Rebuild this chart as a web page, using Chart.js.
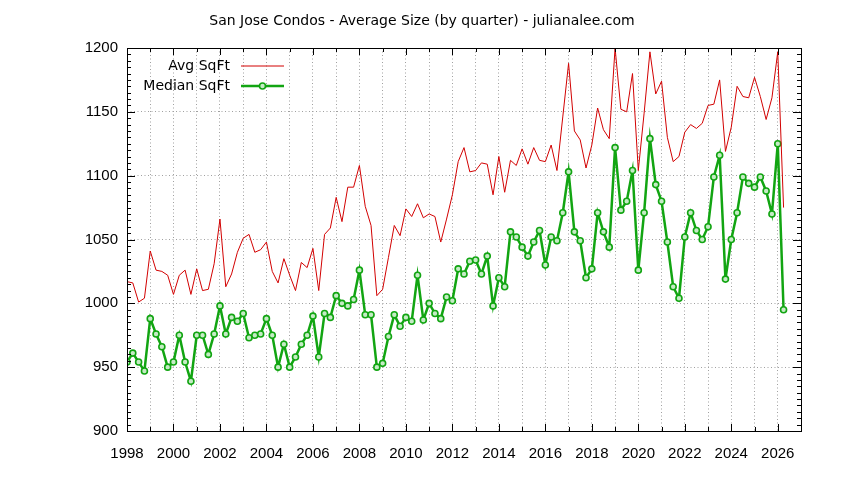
<!DOCTYPE html>
<html>
<head>
<meta charset="utf-8">
<script src="https://cdn.jsdelivr.net/npm/chart.js@4/dist/chart.umd.min.js"></script>
<style>
  html, body { margin: 0; padding: 0; background: #ffffff; }
  #wrap { width: 844px; height: 480px; }
</style>
</head>
<body>
<div id="wrap"><canvas id="c" width="844" height="480"></canvas></div>
<script>
// ---- data ----
const titleText = 'San Jose Condos - Average Size (by quarter) - julianalee.com';
const seriesNames = ['Avg SqFt', 'Median SqFt'];
const startYear = 1998;   // first quarter (Q1 1998)
const yTicks = [900, 950, 1000, 1050, 1100, 1150, 1200];
const xLabelYears = [1998, 2000, 2002, 2004, 2006, 2008, 2010, 2012, 2014, 2016, 2018, 2020, 2022, 2024, 2026];

const avgSqft = [
  1017, 1016, 1001, 1004, 1041, 1026, 1025, 1022, 1007, 1022, 1026, 1007, 1027, 1010, 1011, 1031, 1066, 1013, 1023, 1040,
  1051, 1054, 1040, 1042, 1048, 1025, 1016, 1035, 1022, 1010, 1032, 1028, 1043, 1010, 1054, 1059, 1083, 1064, 1091, 1091,
  1108, 1076, 1061, 1006, 1011, 1036, 1061, 1053, 1074, 1068, 1078, 1067, 1070, 1068, 1048, 1066, 1085, 1111, 1122, 1103,
  1104, 1110, 1109, 1085, 1115, 1087, 1112, 1108, 1121, 1109, 1122, 1112, 1111, 1124, 1104, 1146, 1188, 1135, 1128, 1106,
  1124, 1153, 1136, 1129, 1200, 1152, 1150, 1180, 1104, 1149, 1197, 1164, 1174, 1130, 1111, 1115, 1134, 1140, 1137, 1141,
  1155, 1156, 1175, 1119, 1138, 1170, 1162, 1161, 1177, 1162, 1144, 1161, 1197, 1075
];
const medianSqft = [
  954, 961, 954, 947, 988, 976, 966, 950, 954, 975, 954, 939, 975, 975, 960, 976, 998, 976, 989, 986,
  992, 973, 975, 976, 988, 975, 950, 968, 950, 958, 968, 975, 990, 958, 992, 989, 1006, 1000, 998, 1003,
  1026, 991, 991, 950, 953, 974, 991, 982, 989, 986, 1022, 987, 1000, 992, 988, 1005, 1002, 1027, 1023, 1033,
  1034, 1023, 1037, 998, 1020, 1013, 1056, 1052, 1044, 1037, 1048, 1057, 1030, 1052, 1049, 1071, 1103, 1056, 1049, 1020,
  1027, 1071, 1056, 1044, 1122, 1073, 1080, 1104, 1026, 1071, 1129, 1093, 1080, 1048, 1013, 1004, 1052, 1071, 1057, 1050,
  1060, 1099, 1116, 1019, 1050, 1071, 1099, 1094, 1091, 1099, 1088, 1070, 1125, 995
];

// quarter positions on the time axis (Q1 = year.0, Q2 = year.25, ...)
const quarterX = avgSqft.map((_, i) => startYear + i / 4);
const toPoints = arr => arr.map((v, i) => ({ x: quarterX[i], y: v }));

const FONT = 'DejaVu Sans';
const TICK_FONT = 'Liberation Sans';
const RED = '#d20000';
const GREEN = '#12a512';

// frame + inward tick marks (gnuplot style), and legend
const framePlugin = {
  id: 'frame',
  afterDraw(chart) {
    const { ctx, chartArea: a } = chart;
    const xs = chart.scales.x, ys = chart.scales.y;
    ctx.save();
    ctx.strokeStyle = '#000';
    ctx.lineWidth = 1;
    ctx.beginPath();
    for (let v = ys.min; v <= ys.max; v += 5) {
      const y = Math.round(ys.getPixelForValue(v)) + 0.5;
      const len = (v % 50 === 0) ? 8 : 4;
      ctx.moveTo(a.left, y); ctx.lineTo(a.left + len, y);
      ctx.moveTo(a.right, y); ctx.lineTo(a.right - len, y);
    }
    for (let yr = xs.min; yr <= xs.max; yr += 1) {
      const x = Math.round(xs.getPixelForValue(yr)) + 0.5;
      const len = xLabelYears.includes(yr) ? 7 : 4;
      ctx.moveTo(x, a.bottom); ctx.lineTo(x, a.bottom - len);
      ctx.moveTo(x, a.top); ctx.lineTo(x, a.top + len);
    }
    ctx.stroke();
    ctx.strokeRect(Math.round(a.left) + 0.5, Math.round(a.top) + 0.5,
                   Math.round(a.right - a.left), Math.round(a.bottom - a.top));

    // legend (text right-aligned, sample to the right)
    ctx.font = '14px "' + FONT + '"';
    ctx.textAlign = 'right';
    ctx.textBaseline = 'middle';
    ctx.fillStyle = '#000';
    const textRight = a.left + 103;
    const sx0 = a.left + 114, sx1 = a.left + 157;
    chart.data.datasets.forEach((ds, k) => {
      const y = a.top + 18 + k * 20;
      ctx.fillText(ds.label, textRight, y);
      ctx.strokeStyle = ds.borderColor;
      ctx.lineWidth = ds.borderWidth;
      ctx.beginPath();
      ctx.moveTo(sx0, y); ctx.lineTo(sx1, y);
      ctx.stroke();
      if (ds.pointRadius > 0) {
        ctx.beginPath();
        ctx.arc((sx0 + sx1) / 2, y, ds.pointRadius, 0, Math.PI * 2);
        ctx.fillStyle = ds.pointBackgroundColor;
        ctx.fill();
        ctx.lineWidth = ds.pointBorderWidth;
        ctx.strokeStyle = ds.pointBorderColor;
        ctx.stroke();
        ctx.fillStyle = '#000';
      }
    });
    ctx.restore();
  }
};

new Chart(document.getElementById('c'), {
  type: 'line',
  data: {
    datasets: [
      {
        label: seriesNames[0],
        data: toPoints(avgSqft),
        borderColor: RED,
        borderWidth: 1,
        pointRadius: 0,
        tension: 0,
        fill: false
      },
      {
        label: seriesNames[1],
        data: toPoints(medianSqft),
        borderColor: GREEN,
        borderWidth: 2.5,
        pointRadius: 3,
        pointBorderWidth: 1.6,
        pointBorderColor: GREEN,
        pointBackgroundColor: '#c6ebc6',
        tension: 0,
        fill: false
      }
    ]
  },
  options: {
    responsive: false,
    animation: false,
    devicePixelRatio: 1,
    layout: { padding: 0 },
    plugins: {
      legend: { display: false },
      tooltip: { enabled: false },
      title: {
        display: true,
        text: titleText,
        color: '#000',
        font: { family: FONT, size: 14, weight: 'normal', lineHeight: 1.2 },
        padding: { top: 13, bottom: 18.2 }
      }
    },
    scales: {
      x: {
        type: 'linear',
        min: 1998,
        max: 2027,
        afterFit: s => { s.height = 49; },
        afterBuildTicks: s => {
          const t = [];
          for (let yr = 1998; yr <= 2027; yr++) t.push({ value: yr });
          s.ticks = t;
        },
        ticks: {
          autoSkip: false,
          maxRotation: 0,
          padding: 14,
          color: '#000',
          font: { family: TICK_FONT, size: 15 },
          callback: v => xLabelYears.includes(v) ? String(v) : ''
        },
        grid: { drawTicks: false, color: '#a0a0a0', lineWidth: 1 },
        border: { display: false, dash: [1, 2.5] }
      },
      y: {
        type: 'linear',
        min: 900,
        max: 1200,
        afterFit: s => { s.width = 127; },
        afterBuildTicks: s => { s.ticks = yTicks.map(v => ({ value: v })); },
        ticks: {
          padding: 9,
          color: '#000',
          font: { family: TICK_FONT, size: 15 },
          callback: v => String(v)
        },
        grid: { drawTicks: false, color: '#a0a0a0', lineWidth: 1 },
        border: { display: false, dash: [1, 2.5] }
      },
      yRight: {
        type: 'linear',
        position: 'right',
        min: 900,
        max: 1200,
        afterFit: s => { s.width = 43; },
        ticks: { display: false },
        grid: { display: false, drawOnChartArea: false, drawTicks: false },
        border: { display: false }
      }
    }
  },
  plugins: [framePlugin]
});
</script>
</body>
</html>
